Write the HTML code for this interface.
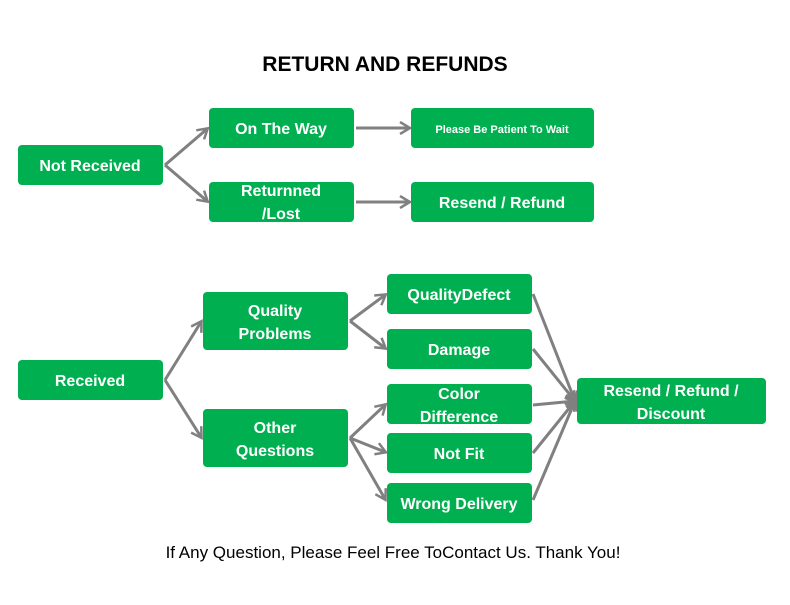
<!DOCTYPE html>
<html><head><meta charset="utf-8"><style>
body{margin:0;background:#fff;width:790px;height:600px;overflow:hidden}
</style></head><body>
<svg width="790" height="600" xmlns="http://www.w3.org/2000/svg" font-family="Liberation Sans, sans-serif">
<defs>
<marker id="a" markerWidth="14" markerHeight="14" refX="10" refY="7" orient="auto" markerUnits="userSpaceOnUse">
<path d="M1,1 L11,7 L1,13" fill="none" stroke="#808080" stroke-width="2.5"/>
</marker>
</defs>
<text x="385" y="71" font-size="21" font-weight="bold" text-anchor="middle" fill="#000">RETURN AND REFUNDS</text>
<g stroke="#808080" stroke-width="3" fill="none" marker-end="url(#a)">
<line x1="165" y1="165" x2="207" y2="129"/>
<line x1="165" y1="165" x2="207" y2="201"/>
<line x1="356" y1="128" x2="409" y2="128"/>
<line x1="356" y1="202" x2="409" y2="202"/>
<line x1="165" y1="380" x2="201" y2="322"/>
<line x1="165" y1="380" x2="201" y2="437"/>
<line x1="350" y1="321" x2="385" y2="295"/>
<line x1="350" y1="321" x2="385" y2="348"/>
<line x1="350" y1="438" x2="385" y2="405"/>
<line x1="350" y1="438" x2="385" y2="452"/>
<line x1="350" y1="438" x2="385" y2="499"/>
<line x1="533" y1="294" x2="575" y2="401"/>
<line x1="533" y1="349" x2="575" y2="401"/>
<line x1="533" y1="405" x2="575" y2="401"/>
<line x1="533" y1="453" x2="575" y2="401"/>
<line x1="533" y1="500" x2="575" y2="401"/>
</g>
<g fill="#00b050">
<rect x="18" y="145" width="145" height="40" rx="4"/>
<rect x="209" y="108" width="145" height="40" rx="4"/>
<rect x="411" y="108" width="183" height="40" rx="4"/>
<rect x="209" y="182" width="145" height="40" rx="4"/>
<rect x="411" y="182" width="183" height="40" rx="4"/>
<rect x="18" y="360" width="145" height="40" rx="4"/>
<rect x="203" y="292" width="145" height="58" rx="4"/>
<rect x="203" y="409" width="145" height="58" rx="4"/>
<rect x="387" y="274" width="145" height="40" rx="4"/>
<rect x="387" y="329" width="145" height="40" rx="4"/>
<rect x="387" y="384" width="145" height="40" rx="4"/>
<rect x="387" y="433" width="145" height="40" rx="4"/>
<rect x="387" y="483" width="145" height="40" rx="4"/>
<rect x="577" y="378" width="189" height="46" rx="4"/>
</g>
<g fill="#fff" font-weight="bold" font-size="16" text-anchor="middle">
<text x="90" y="171">Not Received</text>
<text x="281" y="134">On The Way</text>
<text x="502" y="133" font-size="11">Please Be Patient To Wait</text>
<text x="281" y="196">Returnned</text>
<text x="281" y="219">/Lost</text>
<text x="502" y="208">Resend / Refund</text>
<text x="90" y="386">Received</text>
<text x="275" y="316">Quality</text>
<text x="275" y="339">Problems</text>
<text x="275" y="433">Other</text>
<text x="275" y="456">Questions</text>
<text x="459" y="300">QualityDefect</text>
<text x="459" y="355">Damage</text>
<text x="459" y="399">Color</text>
<text x="459" y="422">Difference</text>
<text x="459" y="459">Not Fit</text>
<text x="459" y="509">Wrong Delivery</text>
<text x="671" y="396">Resend / Refund /</text>
<text x="671" y="419">Discount</text>
</g>
<text x="393" y="558" font-size="17" text-anchor="middle" fill="#000">If Any Question, Please Feel Free ToContact Us. Thank You!</text>
</svg>
</body></html>
